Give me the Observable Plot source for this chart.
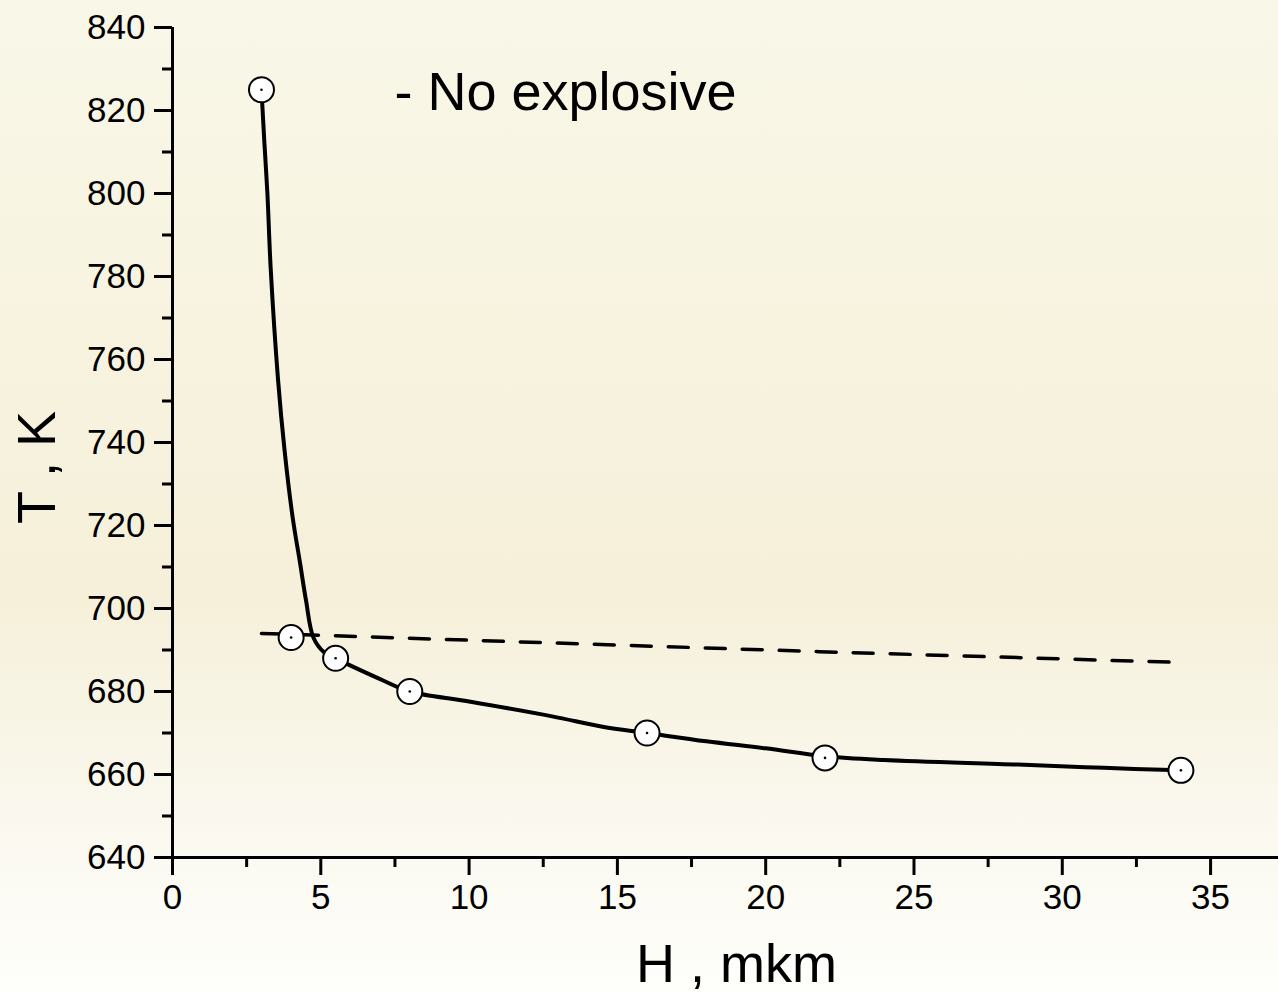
<!DOCTYPE html>
<html><head><meta charset="utf-8">
<script src="https://cdn.jsdelivr.net/npm/d3@7"></script>
<script src="https://cdn.jsdelivr.net/npm/@observablehq/plot@0.6"></script>
<style>html,body{margin:0;padding:0;background:#fbf9ee;overflow:hidden;}</style>
</head><body><div id="chart"></div>
<script>
// measured points
const pointH = [3, 4, 5.5, 8, 16, 22, 34];
const pointT = [825, 693, 688, 680, 670, 664, 661];
// fitted curve
const fitH = [3.0, 3.1, 3.2, 3.31, 3.56, 3.78, 4.05, 4.3, 4.5, 4.75, 5.1, 5.5, 5.9, 7.0, 8.0, 10.0, 12.8, 14.5, 16.0, 18.0, 20.0, 22.0, 24.0, 28.5, 31.4, 34.0];
const fitT = [825, 812, 800, 782, 755, 738, 722, 711, 702, 693, 689.5, 688, 686.6, 683, 680, 677.6, 674, 671.5, 670, 668, 666.3, 664.4, 663.5, 662.4, 661.6, 661];
// dashed "no explosive" line
const noExplH = [3, 12.4, 21.8, 34];
const noExplT = [694, 691.8, 689.6, 687];
// ticks
const xTicks = [0, 5, 10, 15, 20, 25, 30, 35];
const xMinor = [2.5, 7.5, 12.5, 17.5, 22.5, 27.5, 32.5];
const yTicks = [640, 660, 680, 700, 720, 740, 760, 780, 800, 820, 840];
const yMinor = [650, 670, 690, 710, 730, 750, 770, 790, 810, 830];
const legendText = "- No explosive";
const xLabel = "H , mkm";
const yLabel = "T , K";

const points = pointH.map((h, i) => ({h, t: pointT[i]}));
const fit = fitH.map((h, i) => ({h, t: fitT[i]}));
const noExpl = noExplH.map((h, i) => ({h, t: noExplT[i]}));

const font = "'Liberation Sans', Arial, Helvetica, sans-serif";
const sw = 3;

const chart = Plot.plot({
  width: 1278,
  height: 992,
  marginLeft: 172,
  marginRight: 0,
  marginTop: 27,
  marginBottom: 135,
  style: {
    background: "linear-gradient(to bottom, #f9f7e8 0%, #f7f3df 35%, #f6f0da 60%, #faf8ee 82%, #fefefb 100%)",
    fontFamily: font,
    color: "black",
    overflow: "visible"
  },
  x: {domain: [0, 37.29], label: null},
  y: {domain: [640, 840], label: null},
  marks: [
    Plot.axisY({ticks: yTicks, tickSize: 18, tickPadding: 9, strokeWidth: sw, fontSize: 35, label: null}),
    Plot.axisY({ticks: yMinor, tickSize: 10, tickFormat: () => "", strokeWidth: sw, label: null}),
    Plot.axisX({ticks: xTicks, tickSize: 18, tickPadding: 9, strokeWidth: sw, fontSize: 35, label: null}),
    Plot.axisX({ticks: xMinor, tickSize: 10, tickFormat: () => "", strokeWidth: sw, label: null}),
    Plot.ruleX([0], {stroke: "black", strokeWidth: sw}),
    Plot.ruleY([640], {stroke: "black", strokeWidth: sw}),
    Plot.line(noExpl, {x: "h", y: "t", stroke: "black", strokeWidth: 3.5, strokeDasharray: "20,17"}),
    Plot.line(fit, {x: "h", y: "t", stroke: "black", strokeWidth: 4, curve: "catmull-rom"}),
    Plot.dot(points, {x: "h", y: "t", r: 12.5, fill: "white", stroke: "black", strokeWidth: 2}),
    Plot.dot(points, {x: "h", y: "t", r: 1.3, fill: "black"}),
    Plot.text([legendText], {text: d => d, frameAnchor: "top-left", lineAnchor: "middle", textAnchor: "start", dx: 222, dy: 65, fontSize: 54, fill: "black"}),
    Plot.text([xLabel], {text: d => d, frameAnchor: "bottom", lineAnchor: "middle", textAnchor: "middle", dx: 11, dy: 107, fontSize: 54, fill: "black"}),
    Plot.text([yLabel], {text: d => d, frameAnchor: "left", lineAnchor: "middle", textAnchor: "middle", rotate: -90, dx: -135, dy: 25, fontSize: 54, fill: "black"})
  ]
});
document.getElementById("chart").appendChild(chart);
</script>
</body></html>
